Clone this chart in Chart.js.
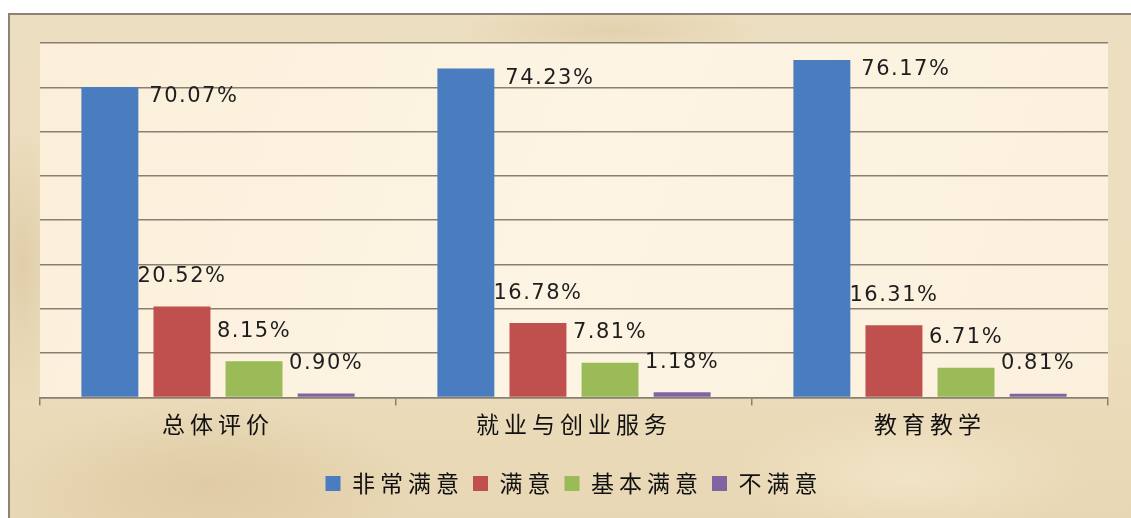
<!DOCTYPE html>
<html>
<head>
<meta charset="utf-8">
<script src="https://cdn.jsdelivr.net/npm/chart.js@4/dist/chart.umd.min.js"></script>
<style>
  html, body { margin: 0; padding: 0; background: #fff; }
  #frame {
    position: absolute; left: 8px; top: 13px; width: 1123px; height: 505px;
    border-left: 2px solid #8d8275; border-top: 2px solid #8d8275;
    box-sizing: border-box;
    background:
      radial-gradient(ellipse 300px 120px at 200px 470px, rgba(214,190,145,0.5), rgba(214,190,145,0) 70%),
      radial-gradient(ellipse 260px 90px at 900px 460px, rgba(245,232,205,0.7), rgba(245,232,205,0) 70%),
      radial-gradient(ellipse 220px 40px at 600px 15px, rgba(218,196,155,0.5), rgba(218,196,155,0) 70%),
      radial-gradient(ellipse 60px 200px at 12px 250px, rgba(212,190,148,0.5), rgba(212,190,148,0) 70%),
      linear-gradient(180deg, #ecdec0 0%, #eddebe 60%, #e8d7b4 100%);
  }
  #wrap { position: absolute; left: 0; top: 0; width: 1131px; height: 518px; }
</style>
</head>
<body>
<div id="frame"></div>
<div id="wrap"><canvas id="chart"></canvas></div>
<script>
const categories = ['总体评价', '就业与创业服务', '教育教学'];
const seriesNames = ['非常满意', '满意', '基本满意', '不满意'];
const verysatisfied = [70.07, 74.23, 76.17];
const satisfied = [20.52, 16.78, 16.31];
const basicSatisfied = [8.15, 7.81, 6.71];
const notSatisfied = [0.90, 1.18, 0.81];

const COLORS = ['#4a7dc0', '#c0504d', '#9bbb59', '#8064a2'];
const GRID = '#8a8072';
const CJK = '"Noto Sans CJK SC", "Noto Sans", sans-serif';
const SPACING = '5px';

const plotBackground = {
    id: 'plotBackground',
    beforeUpdate(chart) { chart.ctx.letterSpacing = SPACING; },
    beforeDraw(chart) {
        const { ctx, chartArea: a } = chart;
        ctx.letterSpacing = SPACING;
        ctx.save();
        const g = ctx.createLinearGradient(a.left, a.top, a.right, a.bottom);
        g.addColorStop(0, '#fbefd9');
        g.addColorStop(0.5, '#fdf4e4');
        g.addColorStop(1, '#fbf0dc');
        ctx.fillStyle = g;
        ctx.fillRect(a.left, a.top, a.right - a.left, a.bottom - a.top);
        ctx.restore();
    }
};

const barLabels = {
    id: 'barLabels',
    afterDatasetsDraw(chart) {
        const ctx = chart.ctx;
        ctx.save();
        ctx.letterSpacing = '1.5px';
        ctx.font = '21px "DejaVu Sans", Verdana, sans-serif';
        ctx.fillStyle = '#1e1e1e';
        ctx.textBaseline = 'middle';
        chart.data.datasets.forEach((ds, i) => {
            chart.getDatasetMeta(i).data.forEach((bar, j) => {
                const text = ds.data[j].toFixed(2) + '%';
                if (i === 0) {
                    ctx.textAlign = 'left';
                    ctx.fillText(text, bar.x + bar.width / 2 + 11, bar.y + 10);
                } else {
                    ctx.textAlign = 'center';
                    ctx.fillText(text, bar.x, bar.y - 30);
                }
            });
        });
        ctx.restore();
    }
};

const makeDataset = (label, values, color) => ({
    label,
    data: values,
    backgroundColor: color,
    borderWidth: 0,
    categoryPercentage: 0.81,
    barPercentage: 0.79
});

new Chart(document.getElementById('chart'), {
    type: 'bar',
    data: {
        labels: categories,
        datasets: [
            makeDataset(seriesNames[0], verysatisfied, COLORS[0]),
            makeDataset(seriesNames[1], satisfied, COLORS[1]),
            makeDataset(seriesNames[2], basicSatisfied, COLORS[2]),
            makeDataset(seriesNames[3], notSatisfied, COLORS[3])
        ]
    },
    options: {
        responsive: true,
        maintainAspectRatio: false,
        animation: false,
        layout: { padding: { left: 40, right: 23, top: 43, bottom: 13 } },
        scales: {
            x: {
                afterFit(scale) { scale.height += 20; },
                grid: { drawOnChartArea: false, drawTicks: true, tickLength: 8, color: GRID, lineWidth: 1.5 },
                border: { display: true, color: GRID, width: 1.5 },
                ticks: { color: '#111', font: { family: CJK, size: 23 }, padding: 5 }
            },
            y: {
                min: 0,
                max: 80,
                ticks: { stepSize: 10, display: false },
                grid: { color: GRID, lineWidth: 1.5, drawTicks: false },
                border: { display: false }
            }
        },
        plugins: {
            legend: {
                position: 'bottom',
                labels: {
                    color: '#111',
                    font: { family: CJK, size: 23 },
                    boxWidth: 15,
                    boxHeight: 15,
                    padding: 9
                }
            },
            tooltip: { enabled: false }
        }
    },
    plugins: [plotBackground, barLabels]
});
</script>
</body>
</html>
